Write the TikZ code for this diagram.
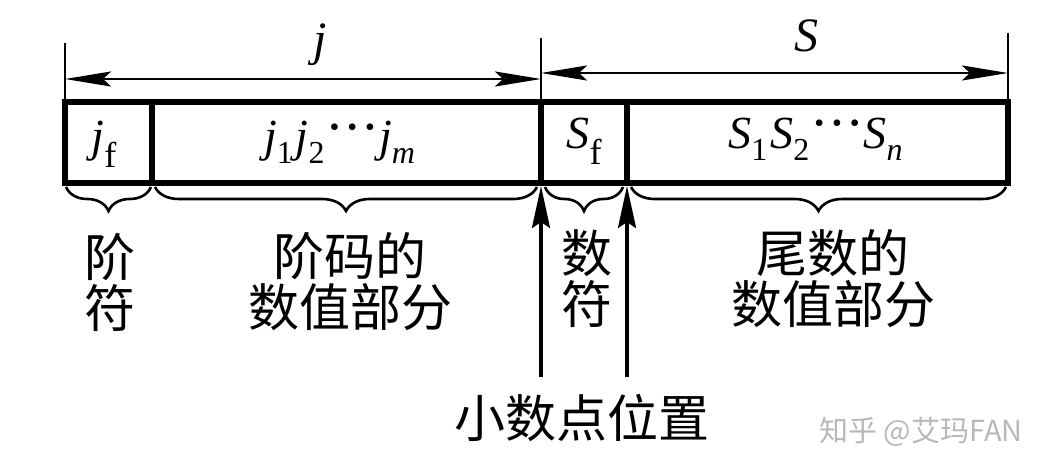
\documentclass[tikz,border=0pt]{standalone}
\usepackage{fontspec}
\setmainfont{Liberation Serif}
\newfontfamily\cjk{Noto Sans CJK SC}
\usetikzlibrary{arrows.meta,decorations.pathreplacing}
\newcommand\lo[1]{\raisebox{-12pt}{\fontsize{32}{32}\selectfont #1}\kern3pt}
\newcommand\lof[1]{\raisebox{-16pt}{\fontsize{36}{36}\selectfont #1}}
\newcommand\dts{\kern2pt\raisebox{16pt}{\fontsize{28}{28}\selectfont\textbullet\kern8pt\textbullet\kern8pt\textbullet}\kern4pt}
\begin{document}
\begin{tikzpicture}[x=1pt,y=-1pt,
  box/.style={line width=5.5pt},
  ext/.style={line width=2.8pt},
  dim/.style={line width=2.8pt,{Stealth[length=46pt,width=15pt,inset=8pt]}-{Stealth[length=46pt,width=15pt,inset=8pt]}},
  up/.style={line width=3.5pt,-{Stealth[length=42pt,width=18pt,inset=6pt]}},
  brc/.style={decorate,decoration={brace,mirror,amplitude=24pt,aspect=0.5},line width=2.6pt},
  mt/.style={font=\fontsize{46}{46}\selectfont,inner sep=0pt,anchor=base},
  zh/.style={font=\cjk\fontsize{51}{51}\selectfont,align=center,inner sep=0pt},
  wm/.style={font=\cjk\fontsize{29}{29}\selectfont,text=black!28,inner sep=0pt,anchor=east}
]
\useasboundingbox (0,0) rectangle (1052,476);
% box corners and dividers
\coordinate (tl) at (65,102);
\coordinate (br) at (1008,183);
\draw[box] (tl) rectangle (br);
\draw[box] (152,102) -- (152,183);
\draw[box] (541,102) -- (541,183);
\draw[box] (627,102) -- (627,183);
% extension lines
\coordinate (eL) at (65,43);
\coordinate (eM) at (541,38);
\coordinate (eR) at (1008,33);
\draw[ext] (eL) -- (65,102);
\draw[ext] (eM) -- (541,102);
\draw[ext] (eR) -- (1008,102);
% dimension arrows
\coordinate (jA) at (65,79);
\coordinate (jB) at (541,79);
\coordinate (sA) at (541,73);
\coordinate (sB) at (1008,73);
\draw[dim] (jA) -- (jB);
\draw[dim] (sA) -- (sB);
\node[mt,font=\fontsize{48}{48}\selectfont] (lj) at (320,56) {\textit{j}};
\node[mt,font=\fontsize{48}{48}\selectfont] (lS) at (806,52) {\textit{S}};
% cell texts
\node[mt] (jf) at (104,152) {\textit{j}\lof{f}};
\node[mt] (jm) at (341,152) {\textit{j}\lo{1}\textit{j}\lo{2}\dts\textit{j}\lo{\textit{m}}};
\node[mt] (sf) at (584,149) {\textit{S}\lof{f}};
\node[mt] (sn) at (817,149) {\textit{S}\lo{1}\textit{S}\lo{2}\dts\textit{S}\lo{\textit{n}}};
% braces
\draw[brc] (66,187) -- (151,187);
\draw[brc] (155,187) -- (537,187);
\draw[brc] (545,187) -- (623,187);
\draw[brc] (631,187) -- (1006,187);
% labels
\node[zh] (l1) at (110,282) {阶\\符};
\node[zh] (l2) at (350,282) {阶码的\\数值部分};
\node[zh] (l3) at (587,279) {数\\符};
\node[zh] (l4) at (833,279) {尾数的\\数值部分};
% decimal point arrows
\coordinate (p1) at (541,377);
\coordinate (q1) at (541,186);
\coordinate (p2) at (627,377);
\coordinate (q2) at (627,186);
\draw[up] (p1) -- (q1);
\draw[up] (p2) -- (q2);
\node[zh] (dp) at (582,418) {小数点位置};
\node[wm] (w) at (1023,432) {知乎 @艾玛FAN};
\end{tikzpicture}
\end{document}
